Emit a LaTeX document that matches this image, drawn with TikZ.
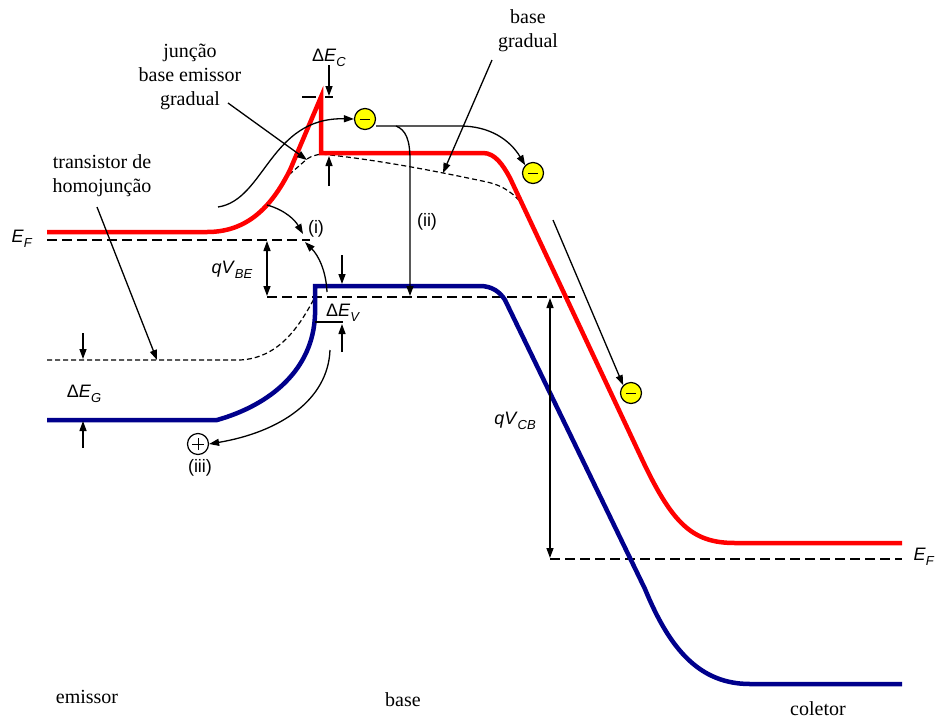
\documentclass[tikz,border=0pt]{standalone}
\usepackage{fontspec}
\setmainfont{Liberation Serif}
\setsansfont{Liberation Sans}
\usetikzlibrary{arrows.meta}
\definecolor{bandred}{RGB}{255,0,0}
\definecolor{bandblue}{RGB}{0,0,140}
\definecolor{eyellow}{RGB}{255,255,0}
\newcommand\symlbl[3]{{\sffamily #1\textit{#2}\raisebox{-0.3em}{\fontsize{13}{13}\selectfont\textit{#3}}}}
\begin{document}
\begin{tikzpicture}[x=1pt,y=-1pt,
  cband/.style={line width=4.5pt, draw=bandred, line join=miter},
  vband/.style={line width=4.5pt, draw=bandblue, line join=miter},
  lev/.style={line width=1.3pt, dash pattern=on 10pt off 5pt},
  fine/.style={line width=1.2pt, dash pattern=on 5pt off 3pt},
  arr/.style={line width=1.3pt, -{Triangle[length=10pt,width=7pt]}},
  darr/.style={line width=1.3pt, {Triangle[length=10pt,width=7pt]}-{Triangle[length=10pt,width=7pt]}},
  tick/.style={line width=1.3pt},
  serif/.style={font=\fontsize{20}{24}\selectfont, align=center, inner sep=0pt},
  sanslbl/.style={font=\fontsize{18}{20}\selectfont\sffamily, inner sep=0pt},
  electron/.style={circle, draw, line width=1.2pt, fill=eyellow, minimum size=21pt, inner sep=0pt,
    path picture={\draw[line width=1pt] ([xshift=-5pt]path picture bounding box.center) -- ([xshift=5pt]path picture bounding box.center);}},
  hole/.style={circle, draw, line width=1.2pt, minimum size=21pt, inner sep=0pt,
    path picture={\draw[line width=1pt] ([xshift=-6pt]path picture bounding box.center) -- ([xshift=6pt]path picture bounding box.center)
      ([yshift=-6pt]path picture bounding box.center) -- ([yshift=6pt]path picture bounding box.center);}}
]
\useasboundingbox[fill=white] (0,0) rectangle (935,721);

% dashed levels
\draw[lev] (47,240) -- (310,240);
\draw[lev] (267,297) -- (575,297);
\draw[lev] (550,559) -- (902,559);
\draw[fine] (47,360) -- (240,360) .. controls (280,358) and (300,325) .. (315,297);
\draw[fine] (283,180) -- (307,159) .. controls (312,156) .. (321,154)
  .. controls (380,160) and (440,172) .. (487,182) .. controls (505,186) and (515,195) .. (523,205);

% bands
\draw[cband] (47,232) -- (207,232) .. controls (245,232) and (270,210) .. (290,170) -- (321,97) -- (321,153) -- (483,153)
  .. controls (495,153) and (503,165) .. (510,178) -- (640,455) .. controls (672,524) and (692,543) .. (735,543) -- (902,543);
\draw[vband] (47,420) -- (217,420) .. controls (270,405) and (313,370) .. (315,315) -- (315,286) -- (480,286)
  .. controls (492,286) and (500,292) .. (505,300) -- (645,589) .. controls (670,650) and (700,684) .. (750,684) -- (902,684);

% carriers
\node[electron] (e1) at (365,119) {};
\node[electron] (e2) at (533,173) {};
\node[electron] (e3) at (631,393) {};
\node[hole] (h1) at (198,444) {};

% electron paths
\coordinate (s1) at (218,207);
\draw[arr] (s1) .. controls (265,200) and (270,117) .. (e1.west);
\coordinate (s2) at (376,126);
\coordinate (br) at (396,126);
\draw[arr] (s2) -- (460,126) .. controls (490,126) and (510,140) .. (e2.north west);
\coordinate (t2) at (410,296);
\draw[arr] (br) .. controls (406,130) and (410,140) .. (410,160) -- (t2);
\coordinate (s3) at (553,220);
\draw[arr] (s3) -- (e3.north west);

% (i) arrows
\coordinate (si) at (267,205);
\coordinate (ti) at (303,234);
\draw[arr] (si) .. controls (285,210) and (295,220) .. (ti);
\coordinate (su) at (327,292);
\coordinate (tu) at (305,242);
\draw[arr] (su) .. controls (326,270) and (318,255) .. (tu);
% (iii)
\coordinate (siii) at (330,350);
\draw[arr] (siii) .. controls (328,400) and (280,432) .. (h1.east);

% Delta E_C
\draw[tick] (302,97) -- (316,97);
\draw[tick] (325,97) -- (333,97);
\coordinate (c1) at (329,65); \coordinate (c2) at (329,96);
\draw[arr] (c1) -- (c2);
\coordinate (c3) at (329,186); \coordinate (c4) at (329,156);
\draw[arr] (c3) -- (c4);

% qV_BE
\coordinate (b1) at (267,241); \coordinate (b2) at (267,296);
\draw[darr] (b1) -- (b2);
% Delta E_V
\coordinate (v1) at (342,255); \coordinate (v2) at (342,284);
\draw[arr] (v1) -- (v2);
\draw[tick] (315,322) -- (343,322);
\coordinate (v3) at (342,352); \coordinate (v4) at (342,324);
\draw[arr] (v3) -- (v4);
% Delta E_G
\coordinate (g1) at (83,333); \coordinate (g2) at (83,359);
\draw[arr] (g1) -- (g2);
\coordinate (g3) at (83,448); \coordinate (g4) at (83,421);
\draw[arr] (g3) -- (g4);
% qV_CB
\coordinate (cb1) at (550,298); \coordinate (cb2) at (550,558);
\draw[darr] (cb1) -- (cb2);

% text labels
\node[serif] (junc) at (190,77) {junção\\base emissor\\gradual};
\node[serif] (homo) at (102,176) {transistor de\\homojunção};
\node[serif] (bgrad) at (528,31) {base\\gradual};
\node[serif] (lemi) at (87,697) {emissor};
\node[serif] (lbase) at (403,700) {base};
\node[serif] (lcol) at (818,709) {coletor};

% pointers
\coordinate (p1) at (228,103); \coordinate (p1t) at (307,160);
\draw[arr] (p1) -- (p1t);
\coordinate (p2) at (97,207); \coordinate (p2t) at (157,360);
\draw[arr] (p2) -- (p2t);
\coordinate (p3) at (492,60); \coordinate (p3t) at (443,173);
\draw[arr] (p3) -- (p3t);

\node[sanslbl] (dec) at (329,58) {\symlbl{Δ}{E}{C}};
\node[sanslbl] (efl) at (22,239) {\symlbl{}{E}{F}};
\node[sanslbl] (efr) at (924,557) {\symlbl{}{E}{F}};
\node[sanslbl] (qvbe) at (232,270) {\symlbl{}{qV}{BE}};
\node[sanslbl] (dev) at (343,313) {\symlbl{Δ}{E}{V}};
\node[sanslbl] (deg) at (84,394) {\symlbl{Δ}{E}{G}};
\node[sanslbl] (qvcb) at (515,421) {\symlbl{}{qV}{CB}};
\node[sanslbl] (li) at (316,229) {(i)};
\node[sanslbl] (lii) at (427,222) {(ii)};
\node[sanslbl] (liii) at (200,468) {(iii)};
\end{tikzpicture}
\end{document}
